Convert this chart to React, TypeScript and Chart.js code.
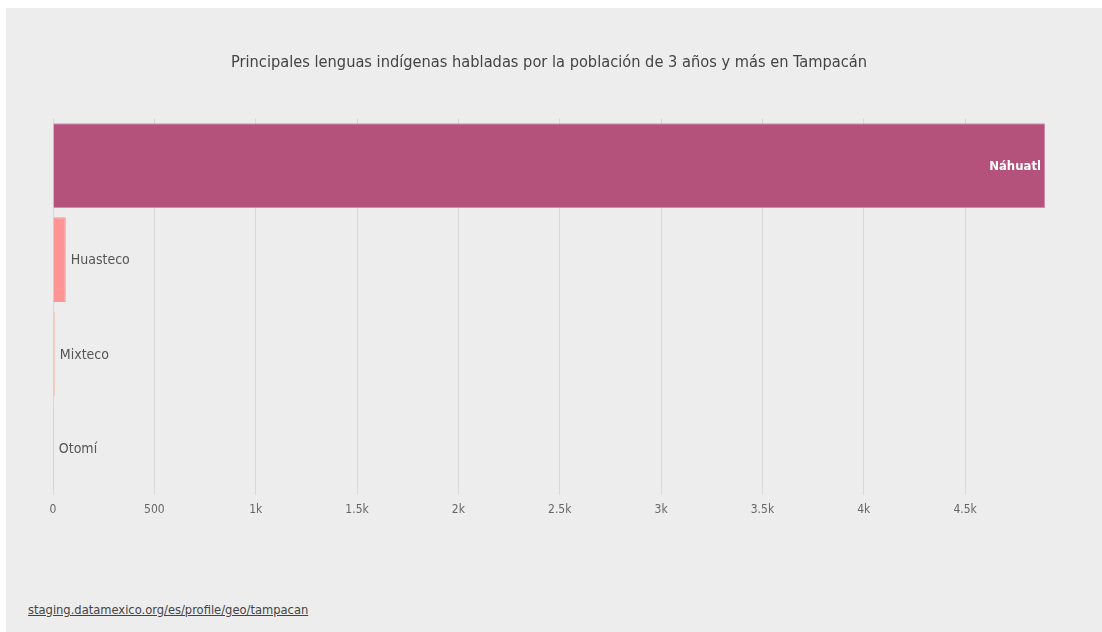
import React, { useEffect, useRef } from "react";
import { Chart, registerables } from "chart.js";

Chart.register(...registerables);

const categories = ["Náhuatl", "Huasteco", "Mixteco", "Otomí"];
const speakers = [4894, 63, 9, 4];
const barColors = ["#b5527c", "#ff9494", "#f5b8a8", "#f08a7c"];
const borderColors = ["#d58aaa", "#ff9494", "#f5b8a8", "#f08a7c"];
const tickValues = [0, 500, 1000, 1500, 2000, 2500, 3000, 3500, 4000, 4500];
const titleText = "Principales lenguas indígenas habladas por la población de 3 años y más en Tampacán";
const sourceText = "staging.datamexico.org/es/profile/geo/tampacan";

const FONT = "'Liberation Sans Narrow', 'DejaVu Sans Condensed', 'Roboto', sans-serif";

const fmt = (v: number) => (v >= 1000 ? `${v / 1000}k` : `${v}`);

const barLabels = {
  id: "barLabels",
  afterDatasetsDraw(chart: any) {
    const ctx = chart.ctx;
    const meta = chart.getDatasetMeta(0);
    ctx.save();
    ctx.textBaseline = "middle";
    meta.data.forEach((bar: any, i: number) => {
      const label = categories[i];
      const barW = bar.x - bar.base;
      if (barW > 100) {
        ctx.font = `bold 13px ${FONT}`;
        ctx.fillStyle = "#ffffff";
        ctx.textAlign = "right";
        ctx.fillText(label, bar.x - 4, bar.y + 1);
      } else {
        ctx.font = `14px ${FONT}`;
        ctx.fillStyle = "#555555";
        ctx.textAlign = "left";
        ctx.fillText(label, bar.x + 5, bar.y + 1);
      }
    });
    ctx.restore();
  },
};

export default function App() {
  const ref = useRef<HTMLCanvasElement>(null);
  useEffect(() => {
    if (!ref.current) return;
    const chart = new Chart(ref.current, {
      type: "bar",
      data: {
        labels: categories,
        datasets: [
          {
            data: speakers,
            backgroundColor: barColors,
            borderColor: borderColors,
            borderWidth: 1,
            barPercentage: 0.9,
            categoryPercentage: 1,
          },
        ],
      },
      options: {
        indexAxis: "y",
        animation: false,
        responsive: false,
        maintainAspectRatio: false,
        layout: { padding: { left: 47, right: 57, top: 30, bottom: 22.5 } },
        plugins: {
          legend: { display: false },
          tooltip: { enabled: false },
          title: {
            display: true,
            text: titleText,
            color: "#444444",
            font: { family: FONT, size: 16.25, weight: "normal" },
            padding: { top: 15, bottom: 46 },
          },
        },
        scales: {
          x: {
            min: 0,
            max: 4894,
            afterBuildTicks: (scale: any) => {
              scale.ticks = tickValues.map((v) => ({ value: v }));
            },
            grid: {
              color: "#d9d9d9",
              lineWidth: 1,
              drawTicks: false,
            },
            border: { display: false },
            ticks: {
              color: "#666666",
              font: { family: FONT, size: 12 },
              padding: 8,
              callback: (v: any) => fmt(Number(v)),
            },
          },
          y: {
            display: false,
          },
        },
      },
      plugins: [barLabels],
    });
    return () => chart.destroy();
  }, []);

  return (
    <div
      style={{
        position: "fixed",
        left: 6,
        top: 8,
        width: 1096,
        height: 624,
        background: "#ededed",
      }}
    >
      <canvas ref={ref} width={1096} height={540} style={{ display: "block" }} />
      <a
        href="#"
        style={{
          position: "absolute",
          left: 22,
          top: 594,
          fontFamily: FONT,
          fontSize: 12.8,
          color: "#444444",
          textDecoration: "underline",
        }}
      >
        {sourceText}
      </a>
    </div>
  );
}
